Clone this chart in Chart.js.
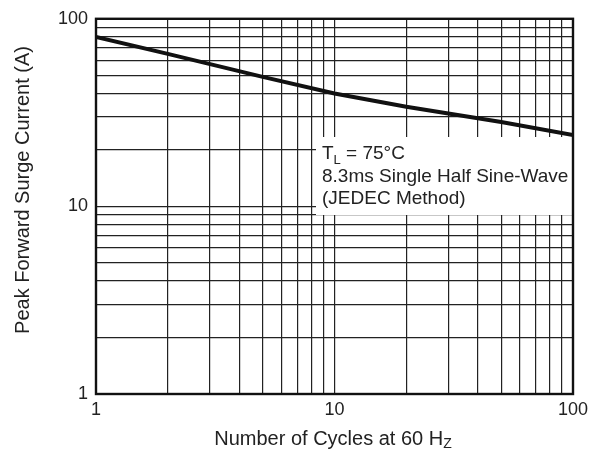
<!DOCTYPE html>
<html>
<head>
<meta charset="utf-8">
<script src="https://cdn.jsdelivr.net/npm/chart.js@4.4.0/dist/chart.umd.min.js"></script>
<style>
  html, body { margin: 0; padding: 0; background: #fff; }
  #wrap { width: 595px; height: 462px; }
</style>
</head>
<body>
<div id="wrap"><canvas id="chart" width="595" height="462"></canvas></div>
<script>
// values (log-log)
const cycles = [1, 2, 5, 10, 20, 50, 100];
const surgeCurrent = [80, 65, 49, 40, 34, 28.2, 24];

const xTicks = [1, 2, 3, 4, 5, 6, 7, 8, 9, 10, 20, 30, 40, 50, 60, 70, 80, 90, 100];
const yTicks = [1, 2, 3, 4, 5, 6, 7, 8, 9, 10, 20, 30, 40, 50, 60, 70, 80, 90, 100];

const xTitle = ["Number of Cycles at 60 H", "Z"];
const yTitle = "Peak Forward Surge Current (A)";
const noteLines = ["8.3ms Single Half Sine-Wave", "(JEDEC Method)"];

const FONT = "'Liberation Sans', Arial, sans-serif";
const TEXT = "#222";

const decadeLabel = (v) => {
  const l = Math.log10(v);
  return Math.abs(l - Math.round(l)) < 1e-9 ? String(v) : "";
};

const extras = {
  id: "extras",
  afterDatasetsDraw(chart) {
    const { ctx, chartArea: a } = chart;
    ctx.save();
    // annotation box
    ctx.fillStyle = "#fff";
    ctx.fillRect(316, 137, a.right - 316, 78);
    ctx.fillStyle = TEXT;
    ctx.textBaseline = "alphabetic";
    ctx.textAlign = "left";
    ctx.font = "19px " + FONT;
    let x = 322;
    ctx.fillText("T", x, 159);
    x += ctx.measureText("T").width;
    ctx.font = "13px " + FONT;
    ctx.fillText("L", x, 164);
    x += ctx.measureText("L").width;
    ctx.font = "19px " + FONT;
    ctx.fillText(" = 75\u00B0C", x, 159);
    noteLines.forEach((t, i) => ctx.fillText(t, 322, 182 + i * 22));

    // frame
    ctx.strokeStyle = "#111";
    ctx.lineWidth = 2.4;
    ctx.strokeRect(a.left, a.top, a.right - a.left, a.bottom - a.top);

    // x title with small Z
    ctx.fillStyle = TEXT;
    ctx.font = "20px " + FONT;
    const w1 = ctx.measureText(xTitle[0]).width;
    ctx.font = "14px " + FONT;
    const w2 = ctx.measureText(xTitle[1]).width;
    let tx = 333 - (w1 + w2) / 2;
    ctx.font = "20px " + FONT;
    ctx.fillText(xTitle[0], tx, 445);
    ctx.font = "14px " + FONT;
    ctx.fillText(xTitle[1], tx + w1, 448);

    // y title
    ctx.font = "20px " + FONT;
    ctx.textAlign = "center";
    ctx.textBaseline = "middle";
    ctx.translate(23, 190);
    ctx.rotate(-Math.PI / 2);
    ctx.fillText(yTitle, 0, 0);
    ctx.restore();
  }
};

new Chart(document.getElementById("chart"), {
  type: "scatter",
  data: {
    datasets: [{
      data: cycles.map((c, i) => ({ x: c, y: surgeCurrent[i] })),
      showLine: true,
      borderColor: "#111",
      borderWidth: 4,
      pointRadius: 0,
      tension: 0
    }]
  },
  options: {
    responsive: false,
    animation: false,
    layout: { padding: { top: 15, right: 22, left: 0, bottom: 0 } },
    plugins: { legend: { display: false }, tooltip: { enabled: false } },
    scales: {
      x: {
        type: "logarithmic",
        min: 1,
        max: 100,
        afterBuildTicks: (s) => { s.ticks = xTicks.map((v) => ({ value: v })); },
        afterFit: (s) => { s.height = 68; },
        grid: { color: "#222", lineWidth: 1.2, drawTicks: false },
        border: { display: false },
        ticks: {
          autoSkip: false,
          maxRotation: 0,
          padding: 5,
          color: TEXT,
          font: { family: FONT, size: 18 },
          callback: (v) => decadeLabel(v)
        }
      },
      y: {
        type: "logarithmic",
        min: 1,
        max: 100,
        afterBuildTicks: (s) => { s.ticks = yTicks.map((v) => ({ value: v })); },
        afterFit: (s) => { s.width = 96; },
        grid: { color: "#222", lineWidth: 1.2, drawTicks: false },
        border: { display: false },
        ticks: {
          autoSkip: false,
          padding: 8,
          color: TEXT,
          font: { family: FONT, size: 18 },
          callback: (v) => decadeLabel(v)
        }
      }
    }
  },
  plugins: [extras]
});
</script>
</body>
</html>
